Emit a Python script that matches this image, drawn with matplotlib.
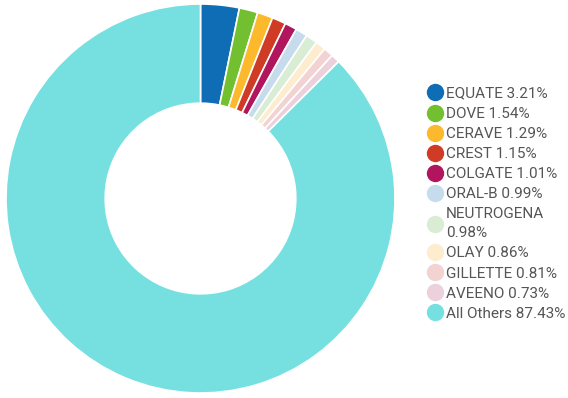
import matplotlib.pyplot as plt
from matplotlib.lines import Line2D

plt.rcParams['font.family'] = ['Roboto', 'DejaVu Sans']

brands = ['EQUATE', 'DOVE', 'CERAVE', 'CREST', 'COLGATE', 'ORAL-B',
          'NEUTROGENA', 'OLAY', 'GILLETTE', 'AVEENO', 'All Others']
shares = [3.21, 1.54, 1.29, 1.15, 1.01, 0.99, 0.98, 0.86, 0.81, 0.73, 87.43]
colors = ['#0f6db5', '#72bf2f', '#fbb92b', '#d03b25', '#b0155d', '#c6dcec',
          '#d9ecd4', '#fdecce', '#f3d2d2', '#ecd0dc', '#76e0e0']

fig = plt.figure(figsize=(5.68, 3.98), dpi=100)
ax = fig.add_axes([6 / 568, 5 / 398, 389 / 568, 389 / 398])
ax.pie(shares, colors=colors, startangle=90, counterclock=False,
       radius=1.0, wedgeprops=dict(width=0.51, edgecolor='white', linewidth=1.2))
ax.set_xlim(-1, 1)
ax.set_ylim(-1, 1)
ax.set_aspect('equal')
ax.axis('off')

labels = []
for b, s in zip(brands, shares):
    if b == 'NEUTROGENA':
        labels.append(f'{b}\n{s:.2f}%')
    else:
        labels.append(f'{b} {s:.2f}%')

handles = [Line2D([0], [0], marker='o', linestyle='', markersize=11.5,
                  markerfacecolor=c, markeredgecolor=c) for c in colors]
leg = fig.legend(handles, labels, loc='center left', bbox_to_anchor=(419 / 568, 0.488),
                 frameon=False, fontsize=11, handletextpad=0.2, labelspacing=0.4,
                 handlelength=1.05, borderpad=0)
for t in leg.get_texts():
    t.set_color('#555555')
    t.set_linespacing(1.45)

fig.savefig('out.png', dpi=100)
